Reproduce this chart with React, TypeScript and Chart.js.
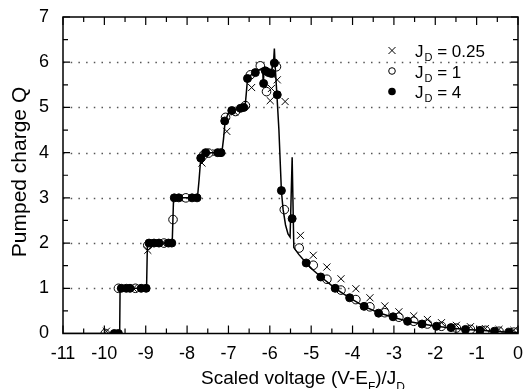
import React, { useEffect, useRef } from 'react';
import { Chart, registerables } from 'chart.js';

Chart.register(...registerables);

const X_MIN = -11;
const X_MAX = 0;
const Y_MIN = 0;
const Y_MAX = 7;

const FONT = '"Liberation Sans", Arial, Helvetica, sans-serif';

// Theory curve (solid line)
const lineX = [-11, -9.63, -9.62, -8.98, -8.96, -8.94, -8.36, -8.33, -8.31, -7.75, -7.71, -7.67, -7.62, -7.55, -7.16, -7.12, -7.08, -7.0, -6.9, -6.6, -6.57, -6.54, -6.45, -6.35, -6.2, -6.17, -6.16, -6.14, -6.03, -5.95, -5.91, -5.89, -5.87, -5.83, -5.78, -5.74, -5.72, -5.68, -5.62, -5.56, -5.51, -5.46, -5.42, -5.3, -5.12, -4.95, -4.76, -4.42, -4.07, -3.72, -3.37, -3.02, -2.67, -2.32, -1.97, -1.62, -1.27, -0.92, -0.57, -0.22, 0];
const lineY = [0, 0, 1, 1, 1.95, 2, 2, 2.9, 3, 3, 3.4, 3.88, 3.98, 4.0, 4.0, 4.3, 4.7, 4.88, 4.95, 5.0, 5.3, 5.62, 5.72, 5.78, 5.86, 5.85, 5.5, 5.82, 5.8, 5.85, 6.0, 6.3, 5.9, 5.3, 4.5, 3.6, 3.15, 2.75, 2.4, 2.2, 2.13, 3.9, 1.9, 1.75, 1.56, 1.4, 1.25, 1.0, 0.79, 0.6, 0.46, 0.36, 0.27, 0.21, 0.16, 0.12, 0.09, 0.07, 0.05, 0.03, 0.02];

// J_D = 4 (filled dots)
const jd4X = [-9.76, -9.66, -9.59, -9.47, -9.38, -9.11, -8.99, -8.92, -8.80, -8.68, -8.45, -8.37, -8.31, -8.2, -7.88, -7.76, -7.67, -7.55, -7.26, -7.18, -7.09, -6.92, -6.71, -6.63, -6.54, -6.35, -6.15, -6.11, -6.03, -5.96, -5.89, -5.82, -5.72, -5.46, -5.12, -4.77, -4.42, -4.07, -3.72, -3.37, -3.02, -2.67, -2.32, -1.97, -1.62, -1.27, -0.92, -0.57, -0.22];
const jd4Y = [0, 0, 1, 1, 1, 1, 1, 2, 2, 2, 2, 2, 3, 3, 3, 3, 3.88, 4.0, 4.0, 4.0, 4.7, 4.93, 4.98, 5.0, 5.64, 5.77, 5.53, 5.81, 5.77, 5.75, 5.98, 5.28, 3.16, 2.54, 1.56, 1.25, 1.0, 0.79, 0.6, 0.45, 0.37, 0.27, 0.21, 0.16, 0.13, 0.09, 0.07, 0.05, 0.03];

// J_D = 1 (open circles)
const jd1X = [-9.98, -9.66, -9.25, -8.95, -8.56, -8.34, -8.03, -7.6, -7.48, -7.07, -6.83, -6.59, -6.47, -6.23, -6.08, -5.84, -5.65, -5.29, -4.95, -4.62, -4.28, -3.92, -3.58, -3.22, -2.88, -2.52, -2.19, -1.85, -1.49, -1.15, -0.79, -0.46, -0.1];
const jd1Y = [0, 1, 1, 1.95, 2, 2.52, 3.0, 3.95, 3.99, 4.78, 4.91, 5.04, 5.72, 5.92, 5.35, 5.9, 2.74, 1.89, 1.51, 1.2, 0.96, 0.75, 0.59, 0.46, 0.36, 0.27, 0.21, 0.16, 0.12, 0.09, 0.07, 0.05, 0.03];

// J_D = 0.25 (crosses)
const jd025X = [-9.95, -9.3, -8.95, -8.6, -8.2, -7.64, -7.3, -7.04, -6.85, -6.44, -5.99, -5.96, -5.82, -5.63, -5.26, -4.95, -4.62, -4.28, -3.92, -3.58, -3.22, -2.88, -2.52, -2.19, -1.85, -1.49, -1.15, -0.79, -0.46, -0.1];
const jd025Y = [0.05, 1, 1.84, 2, 3.0, 3.77, 4.0, 4.47, 4.9, 5.44, 5.15, 5.42, 5.61, 5.13, 2.17, 1.73, 1.47, 1.21, 0.99, 0.79, 0.61, 0.48, 0.39, 0.31, 0.24, 0.18, 0.15, 0.11, 0.09, 0.07];

const legendValues = ['0.25', '1', '4'];
const yTitle = 'Pumped charge Q';
const xTitleParts = [
  { t: 'Scaled voltage (V-E', sub: false },
  { t: 'F', sub: true },
  { t: ')/J', sub: false },
  { t: 'D', sub: true },
];

const toPts = (xs: number[], ys: number[]) => xs.map((x, i) => ({ x, y: ys[i] }));

const framePlugin = {
  id: 'frame',
  beforeDatasetsDraw(chart: any) {
    const { ctx, chartArea: a, scales } = chart;
    const y = scales.y;
    ctx.save();
    ctx.strokeStyle = '#555';
    ctx.lineWidth = 1.5;
    ctx.setLineDash([1.5, 6.2]);
    for (let v = Y_MIN + 1; v < Y_MAX; v++) {
      const py = Math.round(y.getPixelForValue(v)) + 0.5;
      ctx.beginPath();
      ctx.moveTo(a.left, py);
      ctx.lineTo(a.right, py);
      ctx.stroke();
    }
    ctx.restore();
  },
  afterDraw(chart: any) {
    const { ctx, chartArea: a, scales } = chart;
    const x = scales.x;
    const y = scales.y;
    ctx.save();
    ctx.strokeStyle = '#000';
    ctx.lineWidth = 1.5;
    ctx.setLineDash([]);
    ctx.strokeRect(a.left, a.top, a.right - a.left, a.bottom - a.top);
    ctx.lineWidth = 1.2;
    for (let v = X_MIN; v <= X_MAX + 1e-9; v += 0.5) {
      const px = x.getPixelForValue(v);
      const len = Number.isInteger(v) ? 8 : 5;
      ctx.beginPath();
      ctx.moveTo(px, a.bottom);
      ctx.lineTo(px, a.bottom - len);
      ctx.moveTo(px, a.top);
      ctx.lineTo(px, a.top + len);
      ctx.stroke();
    }
    for (let v = Y_MIN; v <= Y_MAX + 1e-9; v += 0.5) {
      const py = y.getPixelForValue(v);
      const len = Number.isInteger(v) ? 7 : 5;
      ctx.beginPath();
      ctx.moveTo(a.left, py);
      ctx.lineTo(a.left + len, py);
      ctx.moveTo(a.right, py);
      ctx.lineTo(a.right - len, py);
      ctx.stroke();
    }

    // Legend
    const symX = 392;
    const textX = 415;
    const baselines = [57, 77.5, 98];
    legendValues.forEach((val, i) => {
      const bl = baselines[i];
      const cy = bl - 6.5;
      ctx.lineWidth = 1;
      ctx.strokeStyle = '#000';
      ctx.fillStyle = '#000';
      if (i === 0) {
        const d = 3.5;
        ctx.beginPath();
        ctx.moveTo(symX - d, cy - d);
        ctx.lineTo(symX + d, cy + d);
        ctx.moveTo(symX + d, cy - d);
        ctx.lineTo(symX - d, cy + d);
        ctx.stroke();
      } else if (i === 1) {
        ctx.beginPath();
        ctx.arc(symX, cy, 3.3, 0, Math.PI * 2);
        ctx.stroke();
      } else {
        ctx.beginPath();
        ctx.arc(symX, cy, 3.8, 0, Math.PI * 2);
        ctx.fill();
      }
      ctx.textAlign = 'left';
      ctx.textBaseline = 'alphabetic';
      let cx = textX;
      ctx.font = `17px ${FONT}`;
      ctx.fillText('J', cx, bl);
      cx += ctx.measureText('J').width + 1;
      ctx.font = `11px ${FONT}`;
      ctx.fillText('D', cx, bl + 4);
      cx += ctx.measureText('D').width;
      ctx.font = `17px ${FONT}`;
      ctx.fillText(' = ' + val, cx, bl);
    });

    // X title
    const mainFont = `19px ${FONT}`;
    const subFont = `12px ${FONT}`;
    let total = 0;
    xTitleParts.forEach((p) => {
      ctx.font = p.sub ? subFont : mainFont;
      total += ctx.measureText(p.t).width;
    });
    let tx = 303 - total / 2;
    const tb = 384;
    ctx.fillStyle = '#000';
    ctx.textAlign = 'left';
    ctx.textBaseline = 'alphabetic';
    xTitleParts.forEach((p) => {
      ctx.font = p.sub ? subFont : mainFont;
      ctx.fillText(p.t, tx, p.sub ? tb + 7 : tb);
      tx += ctx.measureText(p.t).width;
    });

    // Y title
    ctx.translate(26, 172);
    ctx.rotate(-Math.PI / 2);
    ctx.font = `21px ${FONT}`;
    ctx.textAlign = 'center';
    ctx.textBaseline = 'alphabetic';
    ctx.fillText(yTitle, 0, 0);
    ctx.restore();
  },
};

export default function App() {
  const ref = useRef<HTMLCanvasElement | null>(null);
  useEffect(() => {
    if (!ref.current) return;
    const chart = new Chart(ref.current, {
      type: 'scatter',
      data: {
        datasets: [
          {
            label: 'J_D = 4',
            data: toPts(jd4X, jd4Y),
            pointStyle: 'circle',
            pointRadius: 4,
            pointBackgroundColor: '#000',
            pointBorderColor: '#000',
            pointBorderWidth: 1,
            showLine: false,
          },
          {
            label: 'J_D = 1',
            data: toPts(jd1X, jd1Y),
            pointStyle: 'circle',
            pointRadius: 4.3,
            pointBackgroundColor: 'rgba(0,0,0,0)',
            pointBorderColor: '#000',
            pointBorderWidth: 1,
            showLine: false,
          },
          {
            label: 'J_D = 0.25',
            data: toPts(jd025X, jd025Y),
            pointStyle: 'crossRot',
            pointRadius: 5,
            pointBorderColor: '#000',
            pointBorderWidth: 1,
            showLine: false,
          },
          {
            label: 'theory',
            data: toPts(lineX, lineY),
            showLine: true,
            pointRadius: 0,
            borderColor: '#000',
            borderWidth: 1.5,
            tension: 0,
            fill: false,
          },
        ],
      },
      options: {
        responsive: false,
        animation: false,
        events: [],
        layout: { padding: { top: 17, right: 2.5, left: 0, bottom: 0 } },
        plugins: {
          legend: { display: false },
          tooltip: { enabled: false },
        },
        scales: {
          x: {
            type: 'linear',
            min: X_MIN,
            max: X_MAX,
            grid: { display: false },
            border: { display: false },
            ticks: {
              stepSize: 1,
              autoSkip: false,
              maxRotation: 0,
              padding: 2,
              color: '#000',
              font: { family: FONT, size: 18 },
            },
            afterFit: (s: any) => {
              s.height = 55.5;
              s.paddingLeft = 0;
              s.paddingRight = 0;
            },
          },
          y: {
            type: 'linear',
            min: Y_MIN,
            max: Y_MAX,
            grid: { display: false },
            border: { display: false },
            ticks: {
              stepSize: 1,
              padding: 6,
              color: '#000',
              font: { family: FONT, size: 18 },
            },
            afterFit: (s: any) => {
              s.width = 63;
              s.paddingTop = 0;
              s.paddingBottom = 0;
            },
          },
        },
      },
      plugins: [framePlugin],
    });
    return () => chart.destroy();
  }, []);
  return (
    <div style={{ position: 'fixed', left: 0, top: 0, width: 524, height: 389, background: '#fff' }}>
      <canvas ref={ref} width={524} height={389} style={{ display: 'block' }} />
    </div>
  );
}
